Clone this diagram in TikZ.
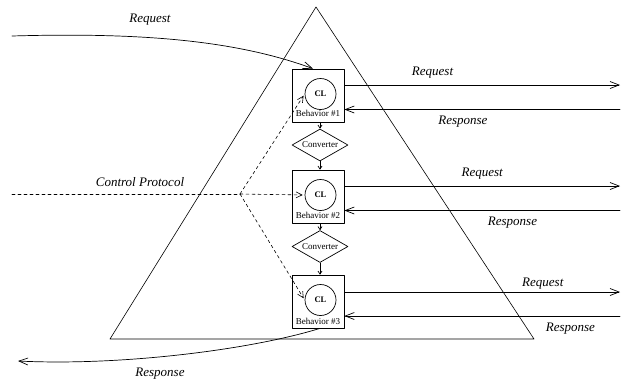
\documentclass[tikz,border=0pt]{standalone}
\usepackage{fontspec}
\setmainfont{Liberation Serif}
\usetikzlibrary{arrows.meta,shapes.geometric}
\begin{document}
\begin{tikzpicture}[>={Straight Barb[length=9pt,width=7pt]},x=1pt,y=-1pt,line cap=round,line join=round,line width=0.7pt,
	behbox/.style={draw,minimum width=52pt,minimum height=53pt,inner sep=0pt},
	clnode/.style={draw,circle,minimum size=31pt,inner sep=0pt,font=\fontsize{8.5}{10}\selectfont\bfseries},
	behtext/.style={font=\fontsize{9}{10}\selectfont,inner sep=0pt},
	conv/.style={draw,diamond,aspect=1.75,minimum width=56pt,minimum height=32pt,inner sep=0pt,font=\fontsize{9}{10}\selectfont},
	lbl/.style={font=\fontsize{13}{15}\selectfont\itshape,inner sep=0pt},
	ctrl/.style={->,dashed,line width=0.6pt,shorten >=2pt,>={Straight Barb[length=6pt,width=6pt]}}]
	\useasboundingbox (0,0) rectangle (624,381);
	% the triangle
	\draw[line width=0.6pt] (316,7) -- (110,339) -- (534,339) -- cycle;
	% behaviors and converters
	\node[behbox] (b1) at (318,95.5) {};
	\node[clnode] (c1) at (320.5,94) {CL};
	\node[behtext] (t1) at (318,113.5) {Behavior \#1};
	\node[conv] (v1) at (320,145) {Converter};
	\node[behbox] (b2) at (318,196.5) {};
	\node[clnode] (c2) at (320.5,195) {CL};
	\node[behtext] (t2) at (318,215) {Behavior \#2};
	\node[conv] (v2) at (320,246.5) {Converter};
	\node[behbox] (b3) at (318,301.5) {};
	\node[clnode] (c3) at (320.5,300) {CL};
	\node[behtext] (t3) at (318,321) {Behavior \#3};
	\draw[->,>={Straight Barb[length=3pt,width=4pt]}] (b1.south -| v1.north) -- (v1.north);
	\draw[->,>={Straight Barb[length=3pt,width=4pt]}] (v1.south) -- (v1.south |- b2.north);
	\draw[->,>={Straight Barb[length=3pt,width=4pt]}] (b2.south -| v2.north) -- (v2.north);
	\draw[->,>={Straight Barb[length=3pt,width=4pt]}] (v2.south) -- (v2.south |- b3.north);
	% outgoing requests and responses
	\coordinate (q1) at (620,85);
	\coordinate (p1) at (620,109.5);
	\coordinate (q2) at (620,186);
	\coordinate (p2) at (620,210.5);
	\coordinate (q3) at (620,292);
	\coordinate (p3) at (620,316);
	\draw[->] (b1.east |- q1) -- (q1) node[lbl,pos=0.32,yshift=12pt] (lq1) {Request};
	\draw[->] (p1) -- (b1.east |- p1) node[lbl,pos=0.57,yshift=-12.5pt] (lp1) {Response};
	\draw[->] (b2.east |- q2) -- (q2) node[lbl,pos=0.5,yshift=12pt] (lq2) {Request};
	\draw[->] (p2) -- (b2.east |- p2) node[lbl,pos=0.39,yshift=-12.5pt] (lp2) {Response};
	\draw[->] (b3.east |- q3) -- (q3) node[lbl,pos=0.72,yshift=8.5pt] (lq3) {Request};
	\draw[->] (p3) -- (b3.east |- p3) node[lbl,pos=0.18,yshift=-12.5pt] (lp3) {Response};
	% incoming request and response
	\coordinate (inq) at (12,36);
	\coordinate (outp) at (18,361);
	\draw[->] (inq) .. controls (150,32) and (240,42) .. ([xshift=-5pt]b1.north);
	\node[lbl] (linq) at (150,20) {Request};
	\draw[->] ([xshift=2pt]b3.south) .. controls (250,350) and (120,366) .. (outp);
	\node[lbl] (loutp) at (160,374) {Response};
	% control protocol
	\coordinate (cin) at (12,194);
	\coordinate (fork) at (240,194);
	\draw[dashed,line width=0.6pt] (cin) -- (fork);
	\node[lbl] (lcp) at (140,182) {Control Protocol};
	\draw[ctrl] (fork) -- (c1.west);
	\draw[ctrl] (fork) -- (c2.west);
	\draw[ctrl] (fork) -- (c3.west);
\end{tikzpicture}
\end{document}
